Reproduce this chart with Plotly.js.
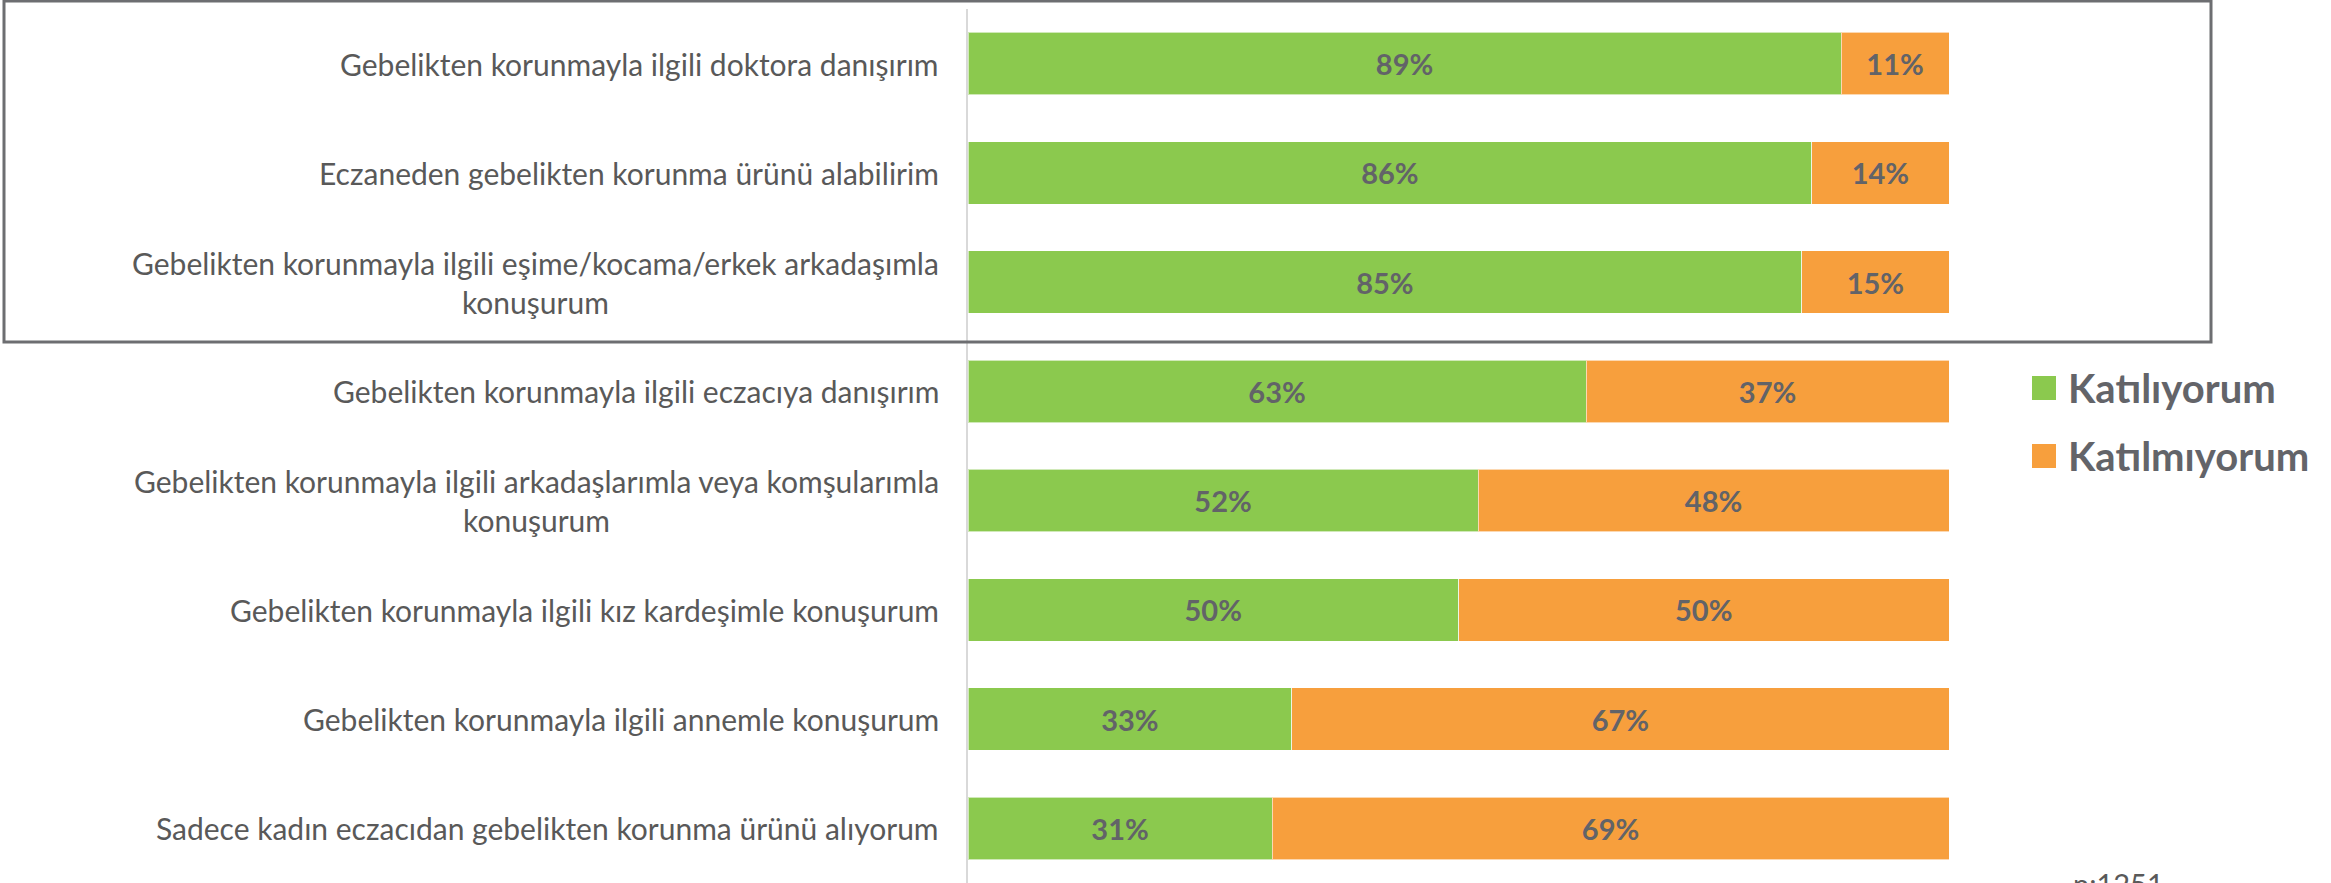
<!DOCTYPE html>
<html>
<head>
<meta charset="utf-8">
<script src="https://cdn.plot.ly/plotly-3.0.1.min.js"></script>
<style>html,body{margin:0;padding:0;background:#fff;}#chart{width:2331px;height:883px;}</style>
</head>
<body>
<div id="chart"></div>
<script>
// ---- data ----
const categories = [
  "Gebelikten korunmayla ilgili doktora danışırım",
  "Eczaneden gebelikten korunma ürünü alabilirim",
  "Gebelikten korunmayla ilgili eşime/kocama/erkek arkadaşımla<br>konuşurum",
  "Gebelikten korunmayla ilgili eczacıya danışırım",
  "Gebelikten korunmayla ilgili arkadaşlarımla veya komşularımla<br>konuşurum",
  "Gebelikten korunmayla ilgili kız kardeşimle konuşurum",
  "Gebelikten korunmayla ilgili annemle konuşurum",
  "Sadece kadın eczacıdan gebelikten korunma ürünü alıyorum"
];
const seriesNames = ["Katılıyorum", "Katılmıyorum"];
const katiliyorum = [0.89, 0.86, 0.85, 0.63, 0.52, 0.50, 0.33, 0.31];
const katilmiyorum = [0.11, 0.14, 0.15, 0.37, 0.48, 0.50, 0.67, 0.69];
const sampleNote = "n:1251";

// ---- styling ----
const colors = ["#8BC94E", "#F79F3D"];
const FONT = "Lato, 'Open Sans', sans-serif";
const W = 2331, H = 883;
const plotL = 968, plotR = 1949, plotT = 9, plotB = 883;
const pw = plotR - plotL, ph = plotB - plotT;
const px = x => (x - plotL) / pw;
const py = y => (plotB - y) / ph;

const valueSets = [katiliyorum, katilmiyorum];
const traces = valueSets.map((vals, i) => ({
  type: "bar",
  orientation: "h",
  name: seriesNames[i],
  y: categories,
  x: vals,
  marker: { color: colors[i], line: { color: "rgba(255,255,255,0.6)", width: 1 } },
  texttemplate: "%{x:.0%}",
  textposition: "inside",
  insidetextanchor: "middle",
  constraintext: "none",
  textfont: { family: FONT, size: 29, color: "#626368", weight: "bold" },
  hoverinfo: "skip",
  showlegend: false
}));

const annotations = categories.map(c => ({
  xref: "paper", yref: "y",
  x: px(941), y: c,
  xanchor: "right", yanchor: "middle",
  align: "center",
  text: c,
  showarrow: false,
  font: { family: FONT, size: 30, color: "#595959" }
}));

// legend drawn from series names
const shapes = [];
const legendY = [388, 456];
seriesNames.forEach((n, i) => {
  shapes.push({
    type: "rect", xref: "paper", yref: "paper",
    x0: px(2032), x1: px(2056), y0: py(legendY[i] + 12), y1: py(legendY[i] - 12),
    fillcolor: colors[i], line: { width: 0 }
  });
  annotations.push({
    xref: "paper", yref: "paper",
    x: px(2066), y: py(legendY[i]),
    xanchor: "left", yanchor: "middle",
    text: "<b>" + n + "</b>",
    showarrow: false,
    font: { family: FONT, size: 40, color: "#636469" }
  });
});

// highlight box
shapes.push({
  type: "rect", xref: "paper", yref: "paper",
  x0: px(4), x1: px(2211), y0: py(342), y1: py(1),
  line: { color: "#6D6E71", width: 3 }, fillcolor: "rgba(0,0,0,0)"
});

annotations.push({
  xref: "paper", yref: "paper",
  x: px(2118), y: py(864),
  xanchor: "center", yanchor: "top",
  text: sampleNote, showarrow: false,
  font: { family: FONT, size: 29, color: "#595959" }
});

const layout = {
  width: W, height: H,
  margin: { l: plotL, r: W - plotR, t: plotT, b: H - plotB, pad: 0 },
  paper_bgcolor: "#fff", plot_bgcolor: "#fff",
  barmode: "stack",
  bargap: 0.43,
  showlegend: false,
  xaxis: { range: [0, 1], showgrid: false, zeroline: false, showticklabels: false, showline: false, fixedrange: true },
  yaxis: {
    autorange: "reversed", showticklabels: false, showgrid: false, zeroline: false,
    showline: true, linecolor: "#D9D9D9", linewidth: 2, ticks: "", fixedrange: true
  },
  shapes: shapes,
  annotations: annotations
};

Plotly.newPlot("chart", traces, layout, { displayModeBar: false, staticPlot: true });
</script>
</body>
</html>
